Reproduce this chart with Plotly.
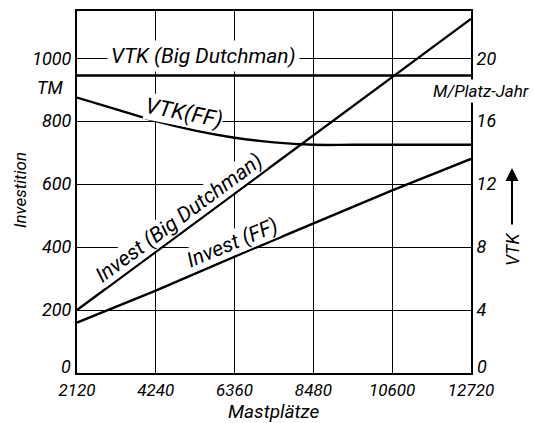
import math
import plotly.graph_objects as go

# ---------------- data ----------------
x_ticks = [2120, 4240, 6360, 8480, 10600, 12720]
x_tick_labels = ["2120", "4240", "6360", "8480", "10600", "12720"]
y_left_ticks = [0, 200, 400, 600, 800, 1000]
y_left_labels = ["0", "200", "400", "600", "800", "1000"]
y_right_ticks = [0, 4, 8, 12, 16, 20]
y_right_labels = ["0", "4", "8", "12", "16", "20"]

# Investition (TM) at the x ticks
invest_bd = [200, 385, 570, 755, 940, 1125]
invest_ff = [160, 262, 370, 475, 580, 680]

# VTK (M/Platz-Jahr)
vtk_x = [2120, 3180, 4240, 5300, 6360, 7420, 8480, 9540, 10600, 11660, 12720]
vtk_ff = [17.5, 16.75, 16.0, 15.4, 14.95, 14.65, 14.5, 14.5, 14.5, 14.5, 14.5]
vtk_bd = [18.9] * len(vtk_x)

# ---------------- layout constants ----------------
W, H = 533, 423
L, R, T, B = 77, 62, 11, 50
PW, PH = W - L - R, H - T - B
XR = [2120, 12720]
YR = [0, 1150]
Y2R = [0, 23]
FONT = "Roboto, Liberation Sans, sans-serif"
LW = 2.4


def paper(px, py):
    """screen pixel -> paper coords"""
    return (px - L) / PW, (H - B - py) / PH


def f(size):
    return dict(family=FONT, size=size, color="black", style="italic")


fig = go.Figure()
fig.add_trace(go.Scatter(x=x_ticks, y=invest_bd, mode="lines",
                         line=dict(color="black", width=LW), yaxis="y"))
fig.add_trace(go.Scatter(x=x_ticks, y=invest_ff, mode="lines",
                         line=dict(color="black", width=LW), yaxis="y"))
fig.add_trace(go.Scatter(x=vtk_x, y=vtk_ff, mode="lines",
                         line=dict(color="black", width=LW, shape="spline", smoothing=1.0),
                         yaxis="y2"))
fig.add_trace(go.Scatter(x=vtk_x, y=vtk_bd, mode="lines",
                         line=dict(color="black", width=LW), yaxis="y2"))

# pixel slopes for label angles
sx = PW / (XR[1] - XR[0])
sy = PH / (YR[1] - YR[0])
ang_bd = math.degrees(math.atan((invest_bd[-1] - invest_bd[0]) * sy / ((x_ticks[-1] - x_ticks[0]) * sx)))
ang_ff = math.degrees(math.atan((invest_ff[-1] - invest_ff[0]) * sy / ((x_ticks[-1] - x_ticks[0]) * sx)))


def along(xv, xs, ys):
    for i in range(len(xs) - 1):
        if xs[i] <= xv <= xs[i + 1]:
            t = (xv - xs[i]) / (xs[i + 1] - xs[i])
            return ys[i] + t * (ys[i + 1] - ys[i])
    return ys[-1]


C = dict(xanchor="center", yanchor="middle", showarrow=False)
ann = []
off = 14
xb = 5079
ann.append(dict(x=xb, y=along(xb, x_ticks, invest_bd), xref="x", yref="y",
                text="Invest (Big Dutchman)", textangle=-ang_bd,
                xshift=-off * math.sin(math.radians(ang_bd)), yshift=off * math.cos(math.radians(ang_bd)),
                font=f(21), bgcolor="white", borderpad=0, **C))
xf = 6425
ann.append(dict(x=xf, y=along(xf, x_ticks, invest_ff), xref="x", yref="y",
                text="Invest (FF)", textangle=-ang_ff,
                xshift=-off * math.sin(math.radians(ang_ff)), yshift=off * math.cos(math.radians(ang_ff)),
                font=f(21), bgcolor="white", borderpad=0, **C))
xv = 5000
ann.append(dict(x=xv, y=along(xv, vtk_x, vtk_ff), xref="x", yref="y2",
                text="VTK(FF)", textangle=11, yshift=15,
                font=f(22), bgcolor="white", borderpad=0, **C))
ann.append(dict(x=paper(203, 58)[0], y=vtk_bd[0], xref="paper", yref="y2",
                text="VTK (Big Dutchman)", yshift=20,
                font=f(21), bgcolor="white", borderpad=3, **C))

# the "0" tick labels sit a little higher, clear of the x labels
ann.append(dict(x=0, y=y_left_ticks[0], xref="paper", yref="y", text=y_left_labels[0],
                xanchor="right", yanchor="middle", showarrow=False, xshift=-4, yshift=7,
                font=f(18)))
ann.append(dict(x=1, y=y_right_ticks[0], xref="paper", yref="y2", text=y_right_labels[0],
                xanchor="left", yanchor="middle", showarrow=False, xshift=4, yshift=7,
                font=f(18)))

# unit labels / titles
px, py = paper(50, 88)
ann.append(dict(x=px, y=py, xref="paper", yref="paper", text="TM", font=f(18), **C))
px, py = paper(481, 91)
ann.append(dict(x=px, y=py, xref="paper", yref="paper", text="M/Platz-Jahr",
                font=f(17), bgcolor="white", borderpad=1, **C))
px, py = paper(20, 190)
ann.append(dict(x=px, y=py, xref="paper", yref="paper", text="Investition",
                textangle=-90, font=f(17), **C))
px, py = paper(274, 411)
ann.append(dict(x=px, y=py, xref="paper", yref="paper", text="Mastplätze", font=f(19), **C))
px, py = paper(512, 249)
ann.append(dict(x=px, y=py, xref="paper", yref="paper", text="VTK",
                textangle=-90, font=f(18), **C))
px, py = paper(512, 168)
ann.append(dict(x=px, y=py, xref="paper", yref="paper", text="", showarrow=True,
                ax=0, ay=58, arrowhead=2, arrowsize=1.3, arrowwidth=2, arrowcolor="black"))

axis_common = dict(showline=True, linecolor="black", linewidth=2, ticks="",
                   zeroline=False, automargin=False)
fig.update_layout(
    width=W, height=H,
    margin=dict(l=L, r=R, t=T, b=B, autoexpand=False),
    plot_bgcolor="white", paper_bgcolor="white",
    showlegend=False,
    font=f(18),
    xaxis=dict(range=XR, tickvals=x_ticks, ticktext=x_tick_labels, showgrid=True,
               gridcolor="black", gridwidth=1.4, mirror=True, tickfont=f(17),
               ticklabelstandoff=1, **axis_common),
    yaxis=dict(range=YR, tickvals=y_left_ticks, ticktext=[""] + y_left_labels[1:],
               showgrid=True, gridcolor="black", gridwidth=1.4, mirror=True,
               tickfont=f(18), **axis_common),
    yaxis2=dict(range=Y2R, tickvals=y_right_ticks, ticktext=[""] + y_right_labels[1:],
                overlaying="y", side="right", showgrid=False, tickfont=f(18), **axis_common),
    annotations=ann,
)

fig.write_html("out.html", config={"displayModeBar": False},
               post_script="document.body.style.margin='0';document.body.style.overflow='hidden';")
